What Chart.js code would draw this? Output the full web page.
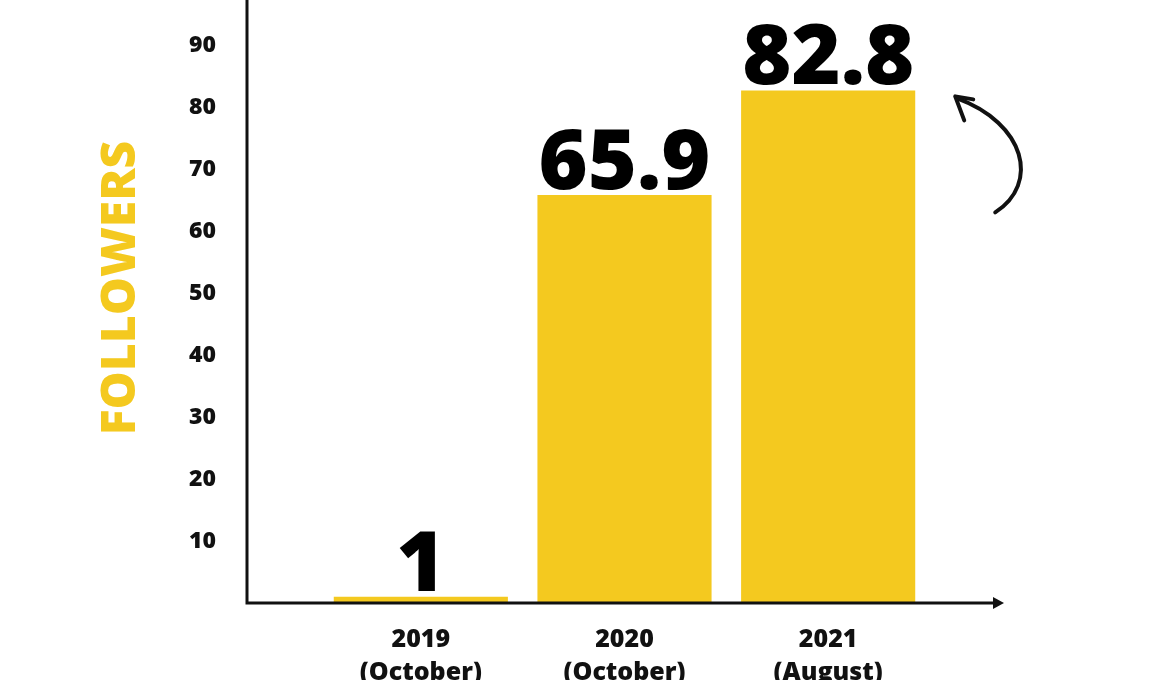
<!DOCTYPE html>
<html>
<head>
<meta charset="utf-8">
<script src="https://cdn.jsdelivr.net/npm/chart.js@4.4.0/dist/chart.umd.min.js"></script>
<style>
  html, body { margin: 0; padding: 0; background: #fff; overflow: hidden; }
  #wrap { width: 1160px; height: 690px; }
</style>
</head>
<body>
<div id="wrap"><canvas id="followersChart" width="1160" height="690"></canvas></div>
<script>
// data
const categories = [['2019', '(October)'], ['2020', '(October)'], ['2021', '(August)']];
const followers = [1, 65.9, 82.8];
const yTickValues = [10, 20, 30, 40, 50, 60, 70, 80, 90];
const axisTitle = 'FOLLOWERS';

const yellow = '#F4C91F';
const ink = '#111111';

// axes with arrow, value labels, side title and the curved arrow
const decorPlugin = {
  id: 'decor',
  afterDatasetsDraw(chart) {
    const ctx = chart.ctx;
    const area = chart.chartArea;
    const axisX = area.left - 72;
    const axisY = area.bottom;

    ctx.save();
    ctx.strokeStyle = ink;
    ctx.lineWidth = 3;
    ctx.beginPath();
    ctx.moveTo(axisX, 0);
    ctx.lineTo(axisX, axisY);
    ctx.lineTo(area.right + 66, axisY);
    ctx.stroke();
    // arrow head on x axis
    ctx.fillStyle = ink;
    ctx.beginPath();
    ctx.moveTo(area.right + 74, axisY);
    ctx.lineTo(area.right + 63, axisY - 6);
    ctx.lineTo(area.right + 63, axisY + 6);
    ctx.closePath();
    ctx.fill();

    // value labels above the bars
    const meta = chart.getDatasetMeta(0);
    ctx.font = '800 84px "Open Sans"';
    ctx.textAlign = 'center';
    ctx.textBaseline = 'alphabetic';
    ctx.fillStyle = '#000';
    meta.data.forEach((bar, i) => {
      ctx.fillText(String(followers[i]), bar.x, bar.y - 6);
    });

    // rotated axis title
    ctx.save();
    ctx.translate(area.left - 198, 288);
    ctx.rotate(-Math.PI / 2);
    ctx.font = '800 48px "Open Sans"';
    ctx.fillStyle = yellow;
    ctx.textAlign = 'center';
    ctx.textBaseline = 'middle';
    ctx.fillText(axisTitle, 0, 0);
    ctx.restore();

    // hand drawn arrow next to the last bar
    const last = meta.data[meta.data.length - 1];
    const tipX = last.x + last.width / 2 + 40;
    const tipY = last.y + 8;
    ctx.lineCap = 'round';
    ctx.lineJoin = 'round';
    ctx.lineWidth = 4;
    ctx.beginPath();
    ctx.moveTo(tipX + 40, tipY + 114);
    ctx.bezierCurveTo(tipX + 85, tipY + 85, tipX + 70, tipY + 25, tipX + 2, tipY);
    ctx.stroke();
    ctx.beginPath();
    ctx.moveTo(tipX + 18, tipY + 1);
    ctx.lineTo(tipX, tipY - 2);
    ctx.lineTo(tipX + 9, tipY + 22);
    ctx.stroke();
    ctx.restore();
  }
};

const chartCtx = document.getElementById('followersChart').getContext('2d');
const followersChart = new Chart(chartCtx, {
  type: 'bar',
  data: {
    labels: categories,
    datasets: [{
      label: 'Followers',
      data: followers,
      backgroundColor: yellow,
      borderWidth: 0,
      categoryPercentage: 1,
      barPercentage: 0.855,
    }],
  },
  options: {
    responsive: false,
    animation: false,
    layout: {
      padding: { left: 0, right: 230, top: 0, bottom: 0 },
    },
    plugins: {
      legend: { display: false },
      tooltip: { enabled: false },
    },
    scales: {
      x: {
        grid: { display: false, drawTicks: false },
        border: { display: false },
        afterFit: (scale) => {
          scale.height = 87;
          scale.paddingLeft = 0;
          scale.paddingRight = 0;
        },
        ticks: {
          color: ink,
          padding: 21,
          font: { family: '"Open Sans"', size: 25, weight: '800', lineHeight: 1.3 },
        },
      },
      y: {
        min: 0,
        max: 97.4,
        grid: { display: false, drawTicks: false },
        border: { display: false },
        afterFit: (scale) => {
          // fixed width, and drop the padding that the big tick gap adds
          scale.width = 319;
          scale.paddingTop = 0;
          scale.paddingBottom = 0;
        },
        afterBuildTicks: (scale) => {
          scale.ticks = yTickValues.map(v => ({ value: v }));
        },
        ticks: {
          color: ink,
          padding: 103,
          font: { family: '"Open Sans"', size: 23, weight: '800' },
        },
      },
    },
  },
  plugins: [decorPlugin],
});
</script>
</body>
</html>
